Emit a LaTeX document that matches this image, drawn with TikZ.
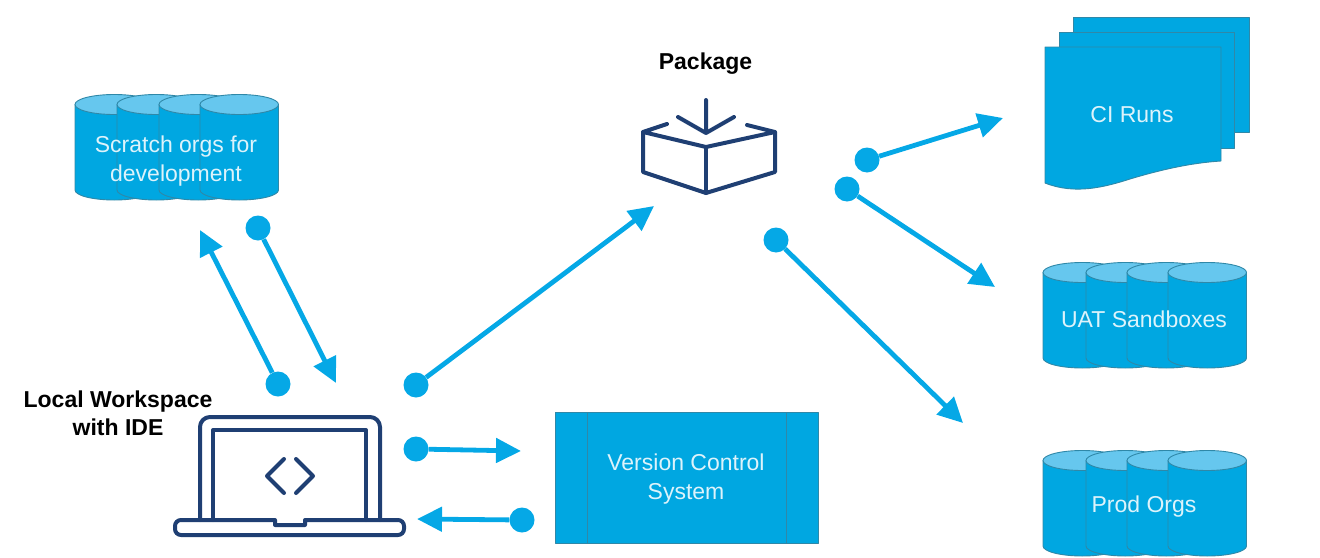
\documentclass[tikz,border=0pt]{standalone}
\usepackage{fontspec}
\setmainfont{Liberation Sans}
\usetikzlibrary{arrows.meta}
\definecolor{mainblue}{HTML}{00A7E1}
\definecolor{topblue}{HTML}{66C7EE}
\definecolor{edgeblue}{HTML}{2F88A8}
\definecolor{linkblue}{HTML}{05A8E6}
\definecolor{navy}{HTML}{1F3F73}
\definecolor{softwhite}{HTML}{DDF3FB}
\tikzset{
  x=1pt,y=-1pt,
  shapebody/.style={fill=mainblue,draw=edgeblue,line width=0.9pt,line join=round},
  shapetop/.style={fill=topblue,draw=edgeblue,line width=0.9pt},
  inlabel/.style={text=softwhite,font=\fontsize{23}{29}\selectfont,align=center,inner sep=0pt},
  boldlabel/.style={text=black,font=\fontsize{23}{28}\selectfont\bfseries,align=center,inner sep=0pt},
  icon/.style={draw=navy,line width=4pt,line join=round,line cap=round},
  dotnode/.style={circle,fill=linkblue,draw=none,minimum size=25pt,inner sep=0pt},
  link/.style={draw=linkblue,line width=4.8pt,-{Triangle[length=25pt,width=24pt]}}
}
\newcommand{\onecyl}[2]{%
  \path[shapebody] (#1,#2) -- (#1,#2+85.5)
    arc[start angle=180,end angle=360,x radius=39.25pt,y radius=10pt]
    -- (#1+78.5,#2) -- cycle;
  \path[shapetop] (#1+39.25,#2) ellipse[x radius=39.25pt,y radius=10pt];
}
\begin{document}
\begin{tikzpicture}
\useasboundingbox (0,0) rectangle (1320,557);
% scratch orgs
\onecyl{75}{104.5}\onecyl{117}{104.5}\onecyl{159}{104.5}\onecyl{200}{104.5}
\node[inlabel] (scratch) at (176,161) {Scratch orgs for\\development};
% UAT
\onecyl{1043}{272.5}\onecyl{1086}{272.5}\onecyl{1127}{272.5}\onecyl{1168}{272.5}
\node[inlabel] (uat) at (1144,319) {UAT Sandboxes};
% Prod
\onecyl{1043}{460.5}\onecyl{1086}{460.5}\onecyl{1127}{460.5}\onecyl{1168}{460.5}
\node[inlabel] (prod) at (1144,507) {Prod Orgs};
% CI runs
\path[shapebody] (1073,17) rectangle (1249,132);
\path[shapebody] (1059,32) rectangle (1234,148);
\path[shapebody] (1045,47) -- (1221,47) -- (1221,161)
  .. controls (1190,163) and (1160,170) .. (1130,179)
  .. controls (1105,187) and (1075,195) .. (1045,183) -- cycle;
\node[inlabel] (ci) at (1132,114.5) {CI Runs};
% version control
\path[shapebody] (555,412) rectangle (818,543);
\draw[edgeblue,line width=0.9pt] (587,412) -- (587,543) (786,412) -- (786,543);
\node[inlabel] (vcs) at (686,479) {Version Control\\System};
% package icon
\node[boldlabel] (pkg) at (705.5,64) {Package};
\draw[icon] (706,100) -- (706,133) (678,117) -- (706,133) -- (734,117);
\draw[icon] (667,124) -- (643,132) -- (706,147) -- (775,132) -- (747,125);
\draw[icon] (643,132) -- (643,172) -- (706,193) -- (775,172) -- (775,132);
\draw[icon] (706,147) -- (706,193);
% laptop icon
\node[boldlabel] (local) at (118,413) {Local Workspace\\with IDE};
\draw[icon] (200,520) -- (200,427) arc[start angle=180,end angle=90,radius=10pt] -- (370,417)
  arc[start angle=90,end angle=0,radius=10pt] -- (380,520);
\draw[icon] (213,520) -- (213,430) -- (366,430) -- (366,520);
\draw[icon] (181,520) -- (275,520) -- (275,525) -- (305,525) -- (305,520) -- (398,520)
  arc[start angle=90,end angle=0,radius=6pt] -- (404,529)
  arc[start angle=0,end angle=-90,radius=6pt] -- (181,535)
  arc[start angle=270,end angle=180,radius=6pt] -- (175,526)
  arc[start angle=180,end angle=90,radius=6pt] -- cycle;
\draw[icon] (284,459) -- (267,476) -- (284,493) (296,459) -- (313,476) -- (296,493);
% dots and free ends
\node[dotnode] (d1) at (258,228) {};   \coordinate (t1) at (336,383);
\node[dotnode] (d2) at (278,384) {};   \coordinate (t2) at (200,230);
\node[dotnode] (d3) at (416,385) {};   \coordinate (t3) at (654,206);
\node[dotnode] (d4) at (416,449) {};   \coordinate (t4) at (521,451);
\node[dotnode] (d5) at (522,520) {};   \coordinate (t5) at (417,519);
\node[dotnode] (d6) at (867,160) {};   \coordinate (t6) at (1003,118);
\node[dotnode] (d7) at (847,189) {};   \coordinate (t7) at (995,287);
\node[dotnode] (d8) at (776,240) {};   \coordinate (t8) at (963,423);
\foreach \i in {1,...,8} { \draw[link] (d\i) -- (t\i); }
\end{tikzpicture}
\end{document}
